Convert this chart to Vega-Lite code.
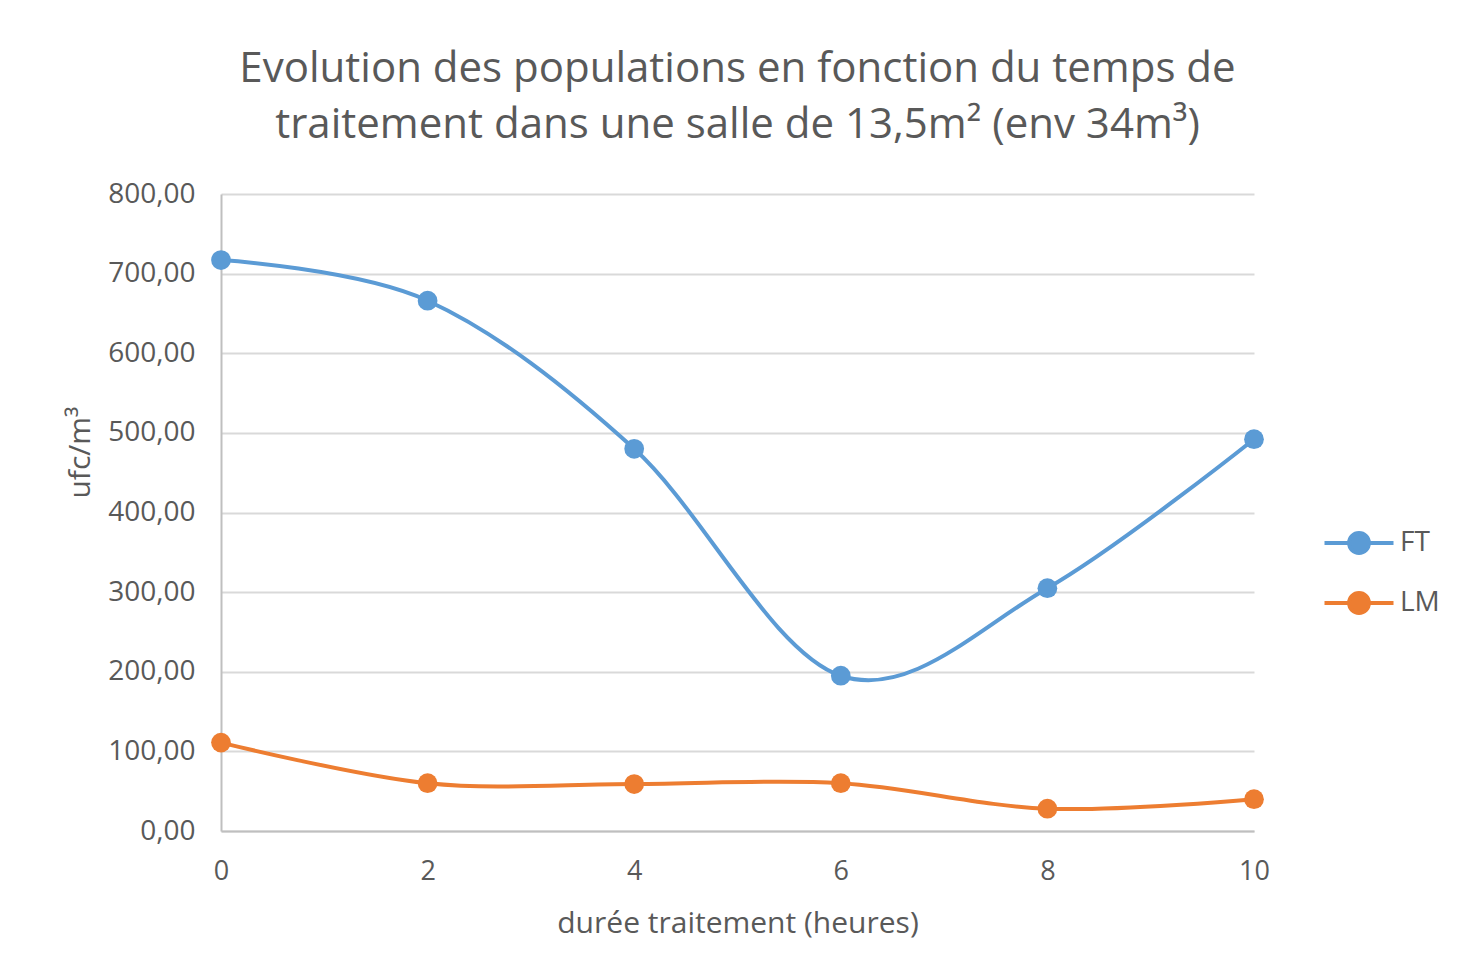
{
  "$schema": "https://vega.github.io/schema/vega-lite/v6.json",
  "width": 1033,
  "height": 637,
  "autosize": {"type": "none"},
  "padding": {"left": 221, "top": 194, "right": 206, "bottom": 149},
  "background": "white",
  "title": {
    "text": ["Evolution des populations en fonction du temps de", "traitement dans une salle de 13,5m² (env 34m³)"],
    "font": "Open Sans",
    "fontSize": 42,
    "fontWeight": "normal",
    "color": "#595959",
    "lineHeight": 56,
    "anchor": "middle",
    "frame": "group",
    "offset": 33
  },
  "data": {
    "values": [
      {"heures": 0, "valeur": 717, "serie": "FT"},
      {"heures": 2, "valeur": 666, "serie": "FT"},
      {"heures": 4, "valeur": 480, "serie": "FT"},
      {"heures": 6, "valeur": 195, "serie": "FT"},
      {"heures": 8, "valeur": 305, "serie": "FT"},
      {"heures": 10, "valeur": 492, "serie": "FT"},
      {"heures": 0, "valeur": 111, "serie": "LM"},
      {"heures": 2, "valeur": 60, "serie": "LM"},
      {"heures": 4, "valeur": 59, "serie": "LM"},
      {"heures": 6, "valeur": 60, "serie": "LM"},
      {"heures": 8, "valeur": 28, "serie": "LM"},
      {"heures": 10, "valeur": 40, "serie": "LM"}
    ]
  },
  "encoding": {
    "x": {
      "field": "heures",
      "type": "quantitative",
      "scale": {"domain": [0, 10], "nice": false},
      "axis": {
        "values": [0, 2, 4, 6, 8, 10],
        "grid": false,
        "ticks": false,
        "labelFlush": false,
        "domainColor": "#BFBFBF",
        "domainWidth": 2,
        "labelFont": "Open Sans",
        "labelFontSize": 27,
        "labelColor": "#595959",
        "labelPadding": 27,
        "title": "durée traitement (heures)",
        "titleFont": "Open Sans",
        "titleFontSize": 30,
        "titleFontWeight": "normal",
        "titleColor": "#595959",
        "titleBaseline": "alphabetic",
        "titleY": 101
      }
    },
    "y": {
      "field": "valeur",
      "type": "quantitative",
      "scale": {"domain": [0, 800], "nice": false},
      "axis": {
        "values": [0, 100, 200, 300, 400, 500, 600, 700, 800],
        "labelExpr": "replace(format(datum.value, '.2f'), '.', ',')",
        "grid": true,
        "gridColor": "#D9D9D9",
        "gridWidth": 2,
        "ticks": false,
        "domainColor": "#BFBFBF",
        "domainWidth": 2,
        "labelFont": "Open Sans",
        "labelFontSize": 28,
        "labelColor": "#595959",
        "labelPadding": 26,
        "title": "ufc/m³",
        "titleFont": "Open Sans",
        "titleFontSize": 30,
        "titleFontWeight": "normal",
        "titleColor": "#595959",
        "titleAngle": -90,
        "titleAlign": "center",
        "titleBaseline": "middle",
        "titleX": -141,
        "titleY": 258
      }
    },
    "color": {
      "field": "serie",
      "type": "nominal",
      "scale": {"domain": ["FT", "LM"], "range": ["#5B9BD5", "#ED7D31"]},
      "legend": {
        "title": null,
        "orient": "none",
        "legendX": 1106,
        "legendY": 317,
        "padding": 0,
        "rowPadding": 10,
        "symbolType": "M-1.15,0H1.15M0.33,0A0.33,0.33 0 1,1 -0.33,0A0.33,0.33 0 1,1 0.33,0Z",
        "symbolSize": 3600,
        "symbolStrokeWidth": 4,
        "labelFont": "Open Sans",
        "labelFontSize": 28,
        "labelColor": "#595959",
        "labelOffset": 9,
        "encode": {
          "symbols": {
            "update": {
              "fill": {"scale": "color", "field": "value"},
              "stroke": {"scale": "color", "field": "value"},
              "opacity": {"value": 1}
            }
          }
        }
      }
    }
  },
  "layer": [
    {
      "mark": {"type": "line", "interpolate": "cardinal", "tension": 0, "strokeWidth": 4}
    },
    {
      "mark": {"type": "point", "filled": true, "size": 390, "opacity": 1}
    }
  ],
  "config": {
    "view": {"stroke": null}
  }
}
